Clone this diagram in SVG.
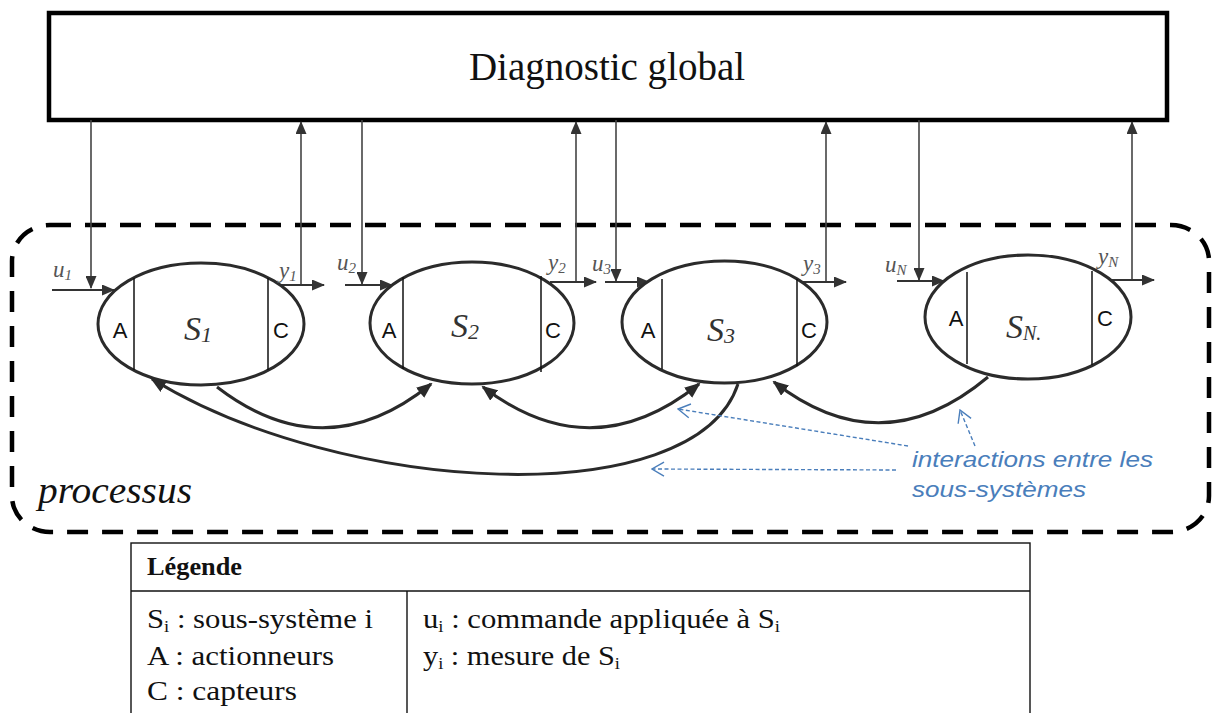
<svg xmlns="http://www.w3.org/2000/svg" width="1215" height="713" viewBox="0 0 1215 713">
<style>
.bg{fill:#fff}
.ell{fill:#fff;stroke:#2b2b2b;stroke-width:3}
.div{stroke:#111;stroke-width:1.5}
.ac{font-family:"Liberation Sans",Arial,sans-serif;font-size:22px;fill:#111}
.sl{font-family:"Liberation Serif","Times New Roman",serif;font-style:italic;font-size:34px;fill:#333}
.io{font-family:"Liberation Serif","Times New Roman",serif;font-style:italic;font-size:23px;fill:#555}
.vl{stroke:#444;stroke-width:1.6;fill:none}
.hl{stroke:#333;stroke-width:2.2;fill:none}
.cv{stroke:#2a2a2a;stroke-width:3;fill:none}
.bl{stroke:#4a7ebb;stroke-width:1.4;stroke-dasharray:4 2.5;fill:none}
.bt{font-family:"Liberation Sans",Arial,sans-serif;font-style:italic;font-size:22px;fill:#4a7ebb}
.lg{font-family:"Liberation Serif","Times New Roman",serif;font-size:28px;fill:#111}
</style>
<defs>
<marker id="ah" markerUnits="userSpaceOnUse" markerWidth="13" markerHeight="11" refX="12" refY="5.5" orient="auto"><path d="M0,0 L13,5.5 L0,11 z" fill="#333"/></marker>
<marker id="ahc" markerUnits="userSpaceOnUse" markerWidth="16" markerHeight="13" refX="14" refY="6.5" orient="auto-start-reverse"><path d="M0,0 L16,6.5 L0,13 z" fill="#2a2a2a"/></marker>
<marker id="ahb" markerUnits="userSpaceOnUse" markerWidth="14" markerHeight="16" refX="13" refY="8" orient="auto"><path d="M1,1 L13,8 L1,15" fill="none" stroke="#4a7ebb" stroke-width="1.4"/></marker>
</defs>
<rect class="bg" x="0" y="0" width="1215" height="713"/>

<g id="diagnostic">
<rect x="49" y="13" width="1118" height="107" fill="#fff" stroke="#000" stroke-width="4.5"/>
<text x="607" y="80" text-anchor="middle" font-family="'Liberation Serif','Times New Roman',serif" font-size="39" fill="#111">Diagnostic global</text>
</g>

<g id="processus">
<rect x="12" y="225" width="1197" height="307" rx="38" ry="36" fill="none" stroke="#000" stroke-width="4.5" stroke-dasharray="21 14"/>
<text x="38" y="503" font-family="'Liberation Serif','Times New Roman',serif" font-style="italic" font-size="37" fill="#111" textLength="154" lengthAdjust="spacingAndGlyphs">processus</text>
</g>

<g id="connectors">
<line class="vl" x1="91" y1="120" x2="91" y2="288" marker-end="url(#ah)"/>
<line class="vl" x1="301" y1="285" x2="301" y2="122" marker-end="url(#ah)"/>
<line class="vl" x1="362" y1="120" x2="362" y2="284" marker-end="url(#ah)"/>
<line class="vl" x1="576" y1="282" x2="576" y2="122" marker-end="url(#ah)"/>
<line class="vl" x1="616" y1="120" x2="616" y2="281" marker-end="url(#ah)"/>
<line class="vl" x1="826" y1="282" x2="826" y2="122" marker-end="url(#ah)"/>
<line class="vl" x1="919" y1="120" x2="919" y2="280" marker-end="url(#ah)"/>
<line class="vl" x1="1132" y1="280" x2="1132" y2="122" marker-end="url(#ah)"/>
<line class="hl" x1="52" y1="290" x2="114" y2="290" marker-end="url(#ah)"/>
<line class="hl" x1="280" y1="285" x2="324" y2="285" marker-end="url(#ah)"/>
<line class="hl" x1="345" y1="285" x2="392" y2="285" marker-end="url(#ah)"/>
<line class="hl" x1="550" y1="282" x2="596" y2="282" marker-end="url(#ah)"/>
<line class="hl" x1="605" y1="282" x2="649" y2="282" marker-end="url(#ah)"/>
<line class="hl" x1="801" y1="282" x2="846" y2="282" marker-end="url(#ah)"/>
<line class="hl" x1="897" y1="281" x2="944" y2="281" marker-end="url(#ah)"/>
<line class="hl" x1="1110" y1="280" x2="1154" y2="280" marker-end="url(#ah)"/>
<path class="cv" d="M217,387 Q325,470 431,384" marker-end="url(#ahc)"/>
<path class="cv" d="M483,387 Q592,470 699,384" marker-start="url(#ahc)" marker-end="url(#ahc)"/>
<path class="cv" d="M988,377 Q882,466 774,382" marker-end="url(#ahc)"/>
<path class="cv" d="M738,384 C695,515 340,495 152,379" marker-end="url(#ahc)"/>
<line class="bl" x1="908" y1="446" x2="678" y2="409" marker-end="url(#ahb)"/>
<line class="bl" x1="896" y1="470" x2="652" y2="469" marker-end="url(#ahb)"/>
<line class="bl" x1="975" y1="446" x2="960" y2="410" marker-end="url(#ahb)"/>
</g>

<g id="S1">
<ellipse class="ell" cx="201" cy="324" rx="103" ry="61"/>
<line class="div" x1="134" y1="278" x2="134" y2="370"/>
<line class="div" x1="268" y1="278" x2="268" y2="370"/>
<text class="ac" x="120" y="338" text-anchor="middle">A</text>
<text class="ac" x="281" y="338" text-anchor="middle">C</text>
<text class="sl" x="184" y="340">S<tspan font-size="22" dy="2">1</tspan></text>
<text class="io" x="53" y="277">u<tspan font-size="15" dy="3">1</tspan></text>
<text class="io" x="279" y="278">y<tspan font-size="15" dy="3">1</tspan></text>
</g>

<g id="S2">
<ellipse class="ell" cx="472" cy="323" rx="102" ry="61"/>
<line class="div" x1="403" y1="277" x2="403" y2="369"/>
<line class="div" x1="541" y1="276" x2="541" y2="372"/>
<text class="ac" x="389" y="338" text-anchor="middle">A</text>
<text class="ac" x="553" y="338" text-anchor="middle">C</text>
<text class="sl" x="451" y="337">S<tspan font-size="22" dy="2">2</tspan></text>
<text class="io" x="337" y="270">u<tspan font-size="15" dy="3">2</tspan></text>
<text class="io" x="548" y="270">y<tspan font-size="15" dy="3">2</tspan></text>
</g>

<g id="S3">
<ellipse class="ell" cx="724.5" cy="322" rx="102.5" ry="61"/>
<line class="div" x1="662" y1="279" x2="662" y2="369"/>
<line class="div" x1="797" y1="279" x2="797" y2="366"/>
<text class="ac" x="648" y="338" text-anchor="middle">A</text>
<text class="ac" x="809" y="338" text-anchor="middle">C</text>
<text class="sl" x="707" y="341">S<tspan font-size="22" dy="2">3</tspan></text>
<text class="io" x="592" y="271">u<tspan font-size="15" dy="3">3</tspan></text>
<text class="io" x="803" y="271">y<tspan font-size="15" dy="3">3</tspan></text>
</g>

<g id="SN">
<ellipse class="ell" cx="1028" cy="317" rx="103" ry="62"/>
<line class="div" x1="967" y1="272" x2="967" y2="364"/>
<line class="div" x1="1092" y1="271" x2="1092" y2="365"/>
<text class="ac" x="956" y="326" text-anchor="middle">A</text>
<text class="ac" x="1105" y="326" text-anchor="middle">C</text>
<text class="sl" x="1006" y="338">S<tspan font-size="20" dy="2">N.</tspan></text>
<text class="io" x="885" y="272">u<tspan font-size="15" dy="3">N</tspan></text>
<text class="io" x="1098" y="264">y<tspan font-size="15" dy="3">N</tspan></text>
</g>

<g id="annotation">
<text class="bt" x="912" y="467" textLength="241" lengthAdjust="spacingAndGlyphs">interactions entre les</text>
<text class="bt" x="912" y="497" textLength="174" lengthAdjust="spacingAndGlyphs">sous-systèmes</text>
</g>

<g id="legende">
<rect x="131" y="543" width="899" height="180" fill="none" stroke="#111" stroke-width="1.4"/>
<line x1="131" y1="591" x2="1030" y2="591" stroke="#111" stroke-width="1.4"/>
<line x1="407" y1="591" x2="407" y2="713" stroke="#111" stroke-width="1.4"/>
<text x="147" y="575" font-family="'Liberation Serif','Times New Roman',serif" font-weight="bold" font-size="26" fill="#111" textLength="95" lengthAdjust="spacingAndGlyphs">Légende</text>
<text class="lg" x="147" y="628" textLength="226" lengthAdjust="spacingAndGlyphs">S<tspan font-size="17" dy="4">i</tspan><tspan dy="-4"> : sous-système i</tspan></text>
<text class="lg" x="147" y="665" textLength="187" lengthAdjust="spacingAndGlyphs">A : actionneurs</text>
<text class="lg" x="147" y="700" textLength="150" lengthAdjust="spacingAndGlyphs">C : capteurs</text>
<text class="lg" x="423" y="628" textLength="357" lengthAdjust="spacingAndGlyphs">u<tspan font-size="17" dy="4">i</tspan><tspan dy="-4"> : commande appliquée à S</tspan><tspan font-size="17" dy="4">i</tspan></text>
<text class="lg" x="423" y="665" textLength="197" lengthAdjust="spacingAndGlyphs">y<tspan font-size="17" dy="4">i</tspan><tspan dy="-4"> : mesure de S</tspan><tspan font-size="17" dy="4">i</tspan></text>
</g>
</svg>
